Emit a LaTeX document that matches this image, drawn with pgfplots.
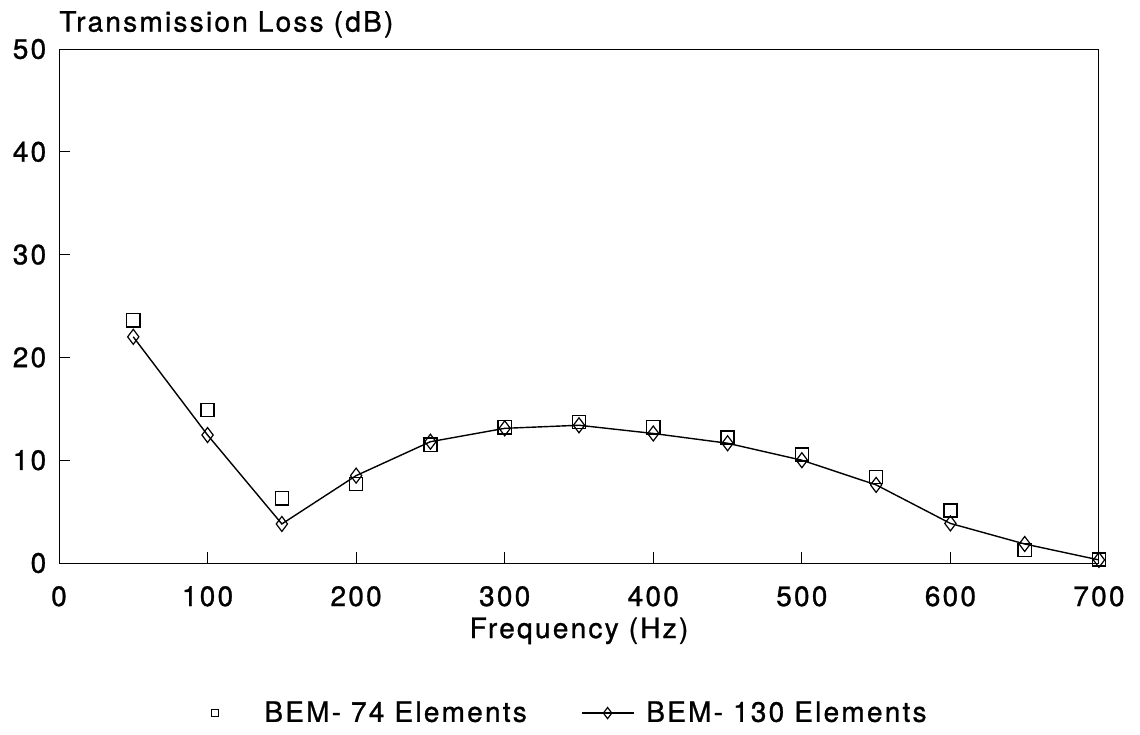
\documentclass[border=0pt]{standalone}
\usepackage{fontspec}
\setmainfont[LetterSpace=8,FakeBold=1]{TeX Gyre Heros}
\usepackage{pgfplots}
\pgfplotsset{compat=1.18}
\newcommand\ff{\fontsize{14}{16}\selectfont}
\begin{document}
\begin{tikzpicture}[font=\ff]
\useasboundingbox (-29.5pt,-85.5pt) rectangle (540.5pt,281.5pt);
\begin{axis}[
  at={(0,0)}, anchor=south west,
  scale only axis, width=520pt, height=257pt,
  xmin=0, xmax=700, ymin=0, ymax=50,
  xtick={0,100,...,700}, ytick={0,10,...,50},
  tick pos=left, tick align=inside, major tick length=5.5pt,
  axis line style={line width=0.5pt},
  every tick/.style={black, line width=0.5pt},
  /pgf/number format/assume math mode=true,
  ticklabel style={font=\ff, inner sep=0pt},
  xticklabel style={anchor=base, yshift=-21.5pt},
  yticklabel style={anchor=east, xshift=-6.2pt},
  xlabel={Frequency (Hz)},
  ylabel={Transmission Loss (dB)},
  every axis x label/.style={at={(axis description cs:0.5,0)}, anchor=base, yshift=-37.5pt, inner sep=0pt, font=\ff},
  every axis y label/.style={at={(axis description cs:0,1)}, anchor=base west, yshift=8.7pt, inner sep=0pt, font=\ff},
  legend columns=2,
  legend style={draw=none, fill=none, font=\ff, at={(axis description cs:0.49,-0.292)}, anchor=center,
    /tikz/every even column/.append style={column sep=25pt}},
  legend cell align=left,
]
\addplot[only marks, mark=square, mark size=3.3pt, mark options={black, line width=0.7pt},
  legend image code/.code={\path (-4pt,0pt) (22.5pt,0pt);
    \draw[black, line width=0.6pt, mark=square, mark size=1.8pt] plot coordinates {(0pt,0pt)};}]
coordinates {
(50,23.6) (100,14.9) (150,6.3) (200,7.7) (250,11.5) (300,13.2) (350,13.7)
(400,13.2) (450,12.2) (500,10.55) (550,8.35) (600,5.1) (650,1.25) (700,0.35)
};
\addlegendentry{BEM- 74 Elements}
\addplot[black, line width=0.7pt, mark=diamond, mark size=3.75pt, mark options={fill=white, line width=0.6pt},
  legend image code/.code={\path (0pt,0pt) (30pt,0pt);
    \draw[black, line width=0.6pt] (0pt,0pt) -- (26pt,0pt);
    \draw[black, line width=0.6pt, mark=diamond, mark size=2.8pt, mark options={fill=white}] plot coordinates {(13pt,0pt)};}]
coordinates {
(50,22.0) (100,12.45) (150,3.8) (200,8.5) (250,11.8) (300,13.1) (350,13.4)
(400,12.6) (450,11.65) (500,10.0) (550,7.6) (600,3.85) (650,1.85) (700,0.3)
};
\addlegendentry{BEM- 130 Elements}
\end{axis}
\end{tikzpicture}
\end{document}
